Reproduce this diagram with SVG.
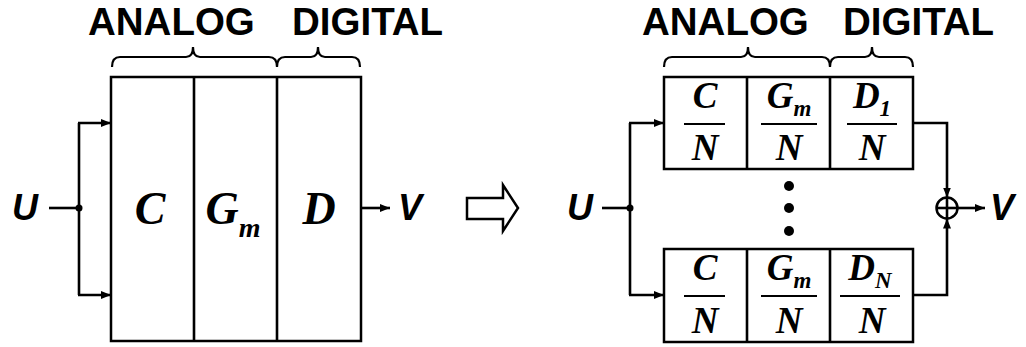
<svg xmlns="http://www.w3.org/2000/svg" width="1026" height="347" viewBox="0 0 1026 347">
<style>
.box{fill:#fff;stroke:#000;stroke-width:2.5}
.w{fill:none;stroke:#000;stroke-width:2.6}
.br{fill:none;stroke:#000;stroke-width:2.2}
.lbl{font-family:"Liberation Sans",Arial,sans-serif;font-weight:bold;font-size:38.5px;fill:#000}
.io{font-family:"Liberation Sans",Arial,sans-serif;font-weight:bold;font-style:italic;font-size:36px;fill:#000}
.big{font-family:"Liberation Serif","Times New Roman",serif;font-weight:bold;font-style:italic;font-size:46px;fill:#000;text-anchor:middle}
.fr{font-family:"Liberation Serif","Times New Roman",serif;font-weight:bold;font-style:italic;font-size:37px;fill:#000;text-anchor:middle}
.fl{stroke:#000;stroke-width:2.2}
</style>
<defs>
<marker id="ah" markerUnits="userSpaceOnUse" markerWidth="12" markerHeight="10" refX="10" refY="5" orient="auto">
<path d="M0,1 L10,5 L0,9 Z" fill="#000"/>
</marker>
</defs>

<!-- titles -->
<g id="titles">
<text class="lbl" x="88" y="35">ANALOG</text>
<text class="lbl" x="292" y="35">DIGITAL</text>
<text class="lbl" x="642" y="35">ANALOG</text>
<text class="lbl" x="843" y="35">DIGITAL</text>
</g>

<g id="braces">
<path class="br" d="M112,67 Q112,57 120,57 L186,57 Q193,57 193,47 Q193,57 200,57 L269,57 Q277,57 277,67 Q277,57 285,57 L311,57 Q318,57 318,47 Q318,57 325,57 L352,57 Q360,57 360,67"/>
<path class="br" d="M664,67 Q664,57 672,57 L741,57 Q748,57 748,47 Q748,57 755,57 L822,57 Q830,57 830,67 Q830,57 838,57 L865,57 Q872,57 872,47 Q872,57 879,57 L905,57 Q913,57 913,67"/>
</g>

<!-- left: single converter -->
<g id="left-block">
<rect class="box" x="111" y="77" width="250" height="264"/>
<line class="w" x1="194" y1="77" x2="194" y2="341"/>
<line class="w" x1="277" y1="77" x2="277" y2="341"/>
<text class="big" x="150" y="224">C</text>
<text class="big" x="233" y="224">G<tspan font-size="28" dy="13">m</tspan></text>
<text class="big" x="319" y="224">D</text>
</g>

<g id="left-io">
<text class="io" x="12" y="220">U</text>
<text class="io" x="398" y="220">V</text>
</g>

<g id="hollow-arrow">
<polygon points="467,198 503,198 503,185 518,208 503,231 503,219 467,219" fill="#fff" stroke="#000" stroke-width="2.5" stroke-linejoin="miter"/>
</g>

<!-- right: parallel converters -->
<g id="top-block">
<rect class="box" x="664" y="77" width="249" height="92"/>
<line class="w" x1="747" y1="77" x2="747" y2="169"/>
<line class="w" x1="830" y1="77" x2="830" y2="169"/>
<text class="fr" x="705" y="108">C</text>
<line class="fl" x1="684" y1="124" x2="725" y2="124"/>
<text class="fr" x="705" y="160">N</text>
<text class="fr" x="789" y="108">G<tspan font-size="23" dy="8">m</tspan></text>
<line class="fl" x1="761" y1="124" x2="817" y2="124"/>
<text class="fr" x="789" y="160">N</text>
<text class="fr" x="872" y="108">D<tspan font-size="23" dy="8">1</tspan></text>
<line class="fl" x1="847" y1="124" x2="897" y2="124"/>
<text class="fr" x="872" y="160">N</text>
</g>

<g id="bottom-block">
<rect class="box" x="664" y="249" width="249" height="93"/>
<line class="w" x1="747" y1="249" x2="747" y2="342"/>
<line class="w" x1="830" y1="249" x2="830" y2="342"/>
<text class="fr" x="705" y="280">C</text>
<line class="fl" x1="684" y1="296" x2="725" y2="296"/>
<text class="fr" x="705" y="333">N</text>
<text class="fr" x="789" y="280">G<tspan font-size="23" dy="8">m</tspan></text>
<line class="fl" x1="761" y1="296" x2="817" y2="296"/>
<text class="fr" x="789" y="333">N</text>
<text class="fr" x="870" y="280">D<tspan font-size="23" dy="8">N</tspan></text>
<line class="fl" x1="840" y1="296" x2="900" y2="296"/>
<text class="fr" x="872" y="333">N</text>
</g>

<g id="ellipsis">
<circle cx="789" cy="186" r="5"/>
<circle cx="789" cy="208" r="5"/>
<circle cx="789" cy="231" r="5"/>
</g>

<g id="sum">
<circle cx="947" cy="208" r="10.5" fill="#fff" stroke="#000" stroke-width="2.5"/>
<line class="w" x1="936.5" y1="208" x2="957.5" y2="208"/>
<line class="w" x1="947" y1="197.5" x2="947" y2="218.5"/>
</g>

<g id="right-io">
<text class="io" x="567" y="220">U</text>
<text class="io" x="990" y="220">V</text>
</g>

<!-- connectors -->
<g id="connectors">
<line class="w" x1="49" y1="208" x2="79" y2="208"/>
<circle cx="79" cy="208" r="3.5"/>
<line class="w" x1="79" y1="123" x2="79" y2="295"/>
<polyline class="w" points="78,123 111,123" marker-end="url(#ah)"/>
<polyline class="w" points="78,295 111,295" marker-end="url(#ah)"/>
<line class="w" x1="361" y1="208" x2="390" y2="208" marker-end="url(#ah)"/>

<line class="w" x1="602" y1="208" x2="630" y2="208"/>
<circle cx="630" cy="208" r="3.5"/>
<line class="w" x1="630" y1="123" x2="630" y2="295"/>
<polyline class="w" points="629,123 664,123" marker-end="url(#ah)"/>
<polyline class="w" points="629,295 664,295" marker-end="url(#ah)"/>
<polyline class="w" points="913,123 947,123 947,197.5" marker-end="url(#ah)"/>
<polyline class="w" points="913,295 947,295 947,218.5" marker-end="url(#ah)"/>
<line class="w" x1="957.5" y1="208" x2="985" y2="208" marker-end="url(#ah)"/>
</g>
</svg>
